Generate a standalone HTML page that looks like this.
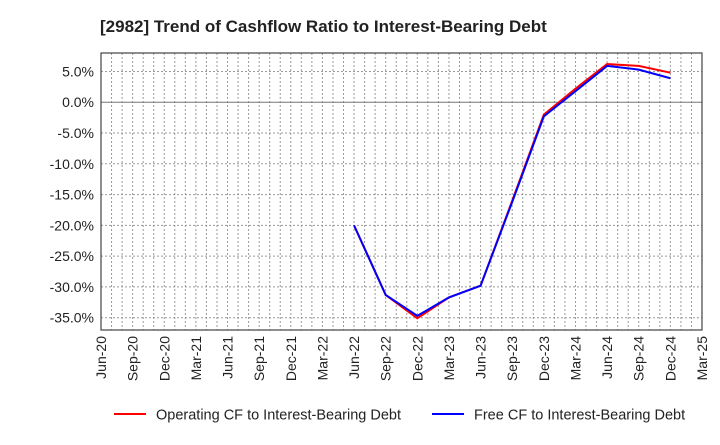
<!DOCTYPE html>
<html><head><meta charset="utf-8"><style>
body{margin:0;background:#fff;font-family:"Liberation Sans",sans-serif;}
svg text{font-family:"Liberation Sans",sans-serif;}
</style></head><body>
<svg width="720" height="440">
<text x="100" y="32" font-size="17" font-weight="bold" fill="#222">[2982]  Trend of Cashflow Ratio to Interest-Bearing Debt</text>
<g id="grid"></g><g id="axes"></g><g id="series"></g>
<g>
<line x1="114" y1="414" x2="146" y2="414" stroke="#f00" stroke-width="2"/>
<text x="156" y="419.5" font-size="14.5" fill="#222">Operating CF to Interest-Bearing Debt</text>
<line x1="432" y1="414" x2="464" y2="414" stroke="#00f" stroke-width="2"/>
<text x="474" y="419.5" font-size="14.5" fill="#222">Free CF to Interest-Bearing Debt</text>
</g>
</svg>
<script>
const categories=["Jun-20","Sep-20","Dec-20","Mar-21","Jun-21","Sep-21","Dec-21","Mar-22","Jun-22","Sep-22","Dec-22","Mar-23","Jun-23","Sep-23","Dec-23","Mar-24","Jun-24","Sep-24","Dec-24","Mar-25"];
const operatingCF=[null,null,null,null,null,null,null,null,-20.0,-31.3,-35.1,-31.7,-29.8,-16.0,-2.0,2.2,6.2,5.9,4.8,null];
const freeCF=[null,null,null,null,null,null,null,null,-20.0,-31.3,-34.7,-31.7,-29.8,-16.2,-2.3,1.8,5.9,5.3,3.9,null];
const yTicks=[5,0,-5,-10,-15,-20,-25,-30,-35];
const NS="http://www.w3.org/2000/svg";
const L=101,R=702,T=53,B=330,yMin=-37,yMax=8;
const x=i=>L+i*(R-L)/(categories.length-1);
const y=v=>B-(v-yMin)*(B-T)/(yMax-yMin);
function mk(tag,attrs,parent){const e=document.createElementNS(NS,tag);for(const k in attrs)e.setAttribute(k,attrs[k]);parent.appendChild(e);return e;}
const grid=document.getElementById('grid'),axes=document.getElementById('axes'),ser=document.getElementById('series');
mk('rect',{x:L,y:T,width:R-L,height:B-T,fill:'#fff'},grid);
for(let m=1;m<(categories.length-1)*3;m++){const xx=L+m*(R-L)/((categories.length-1)*3);
const g=mk('line',{x1:xx,x2:xx,y1:T,y2:B,stroke:'#999','stroke-dasharray':'2,2','stroke-width':1},grid);

}
yTicks.forEach(v=>{const g=mk('line',{x1:L,x2:R,y1:y(v),y2:y(v),stroke:v===0?'#777':'#999','stroke-dasharray':v===0?'none':'2,2'},grid);


const t=mk('text',{x:L-7,y:y(v)+5,'text-anchor':'end','font-size':14,fill:'#222'},axes);t.textContent=v.toFixed(1)+'%';

});
categories.forEach((c,i)=>{const t=mk('text',{transform:`translate(${x(i)+5},${B+6}) rotate(-90)`,'text-anchor':'end','font-size':14,fill:'#222'},axes);t.textContent=c;

});
const fr=mk('rect',{x:L,y:T,width:R-L,height:B-T,fill:'none',stroke:'#444','stroke-width':1.2},axes);


function line(data,color,name){const p=[];data.forEach((v,i)=>{if(v!==null)p.push(x(i)+','+y(v));});
const pl=mk('polyline',{points:p.join(' '),fill:'none',stroke:color,'stroke-width':2},ser);

}
line(operatingCF,'#f00','operating-cf-line');
line(freeCF,'#00f','free-cf-line');
</script>
</body></html>
